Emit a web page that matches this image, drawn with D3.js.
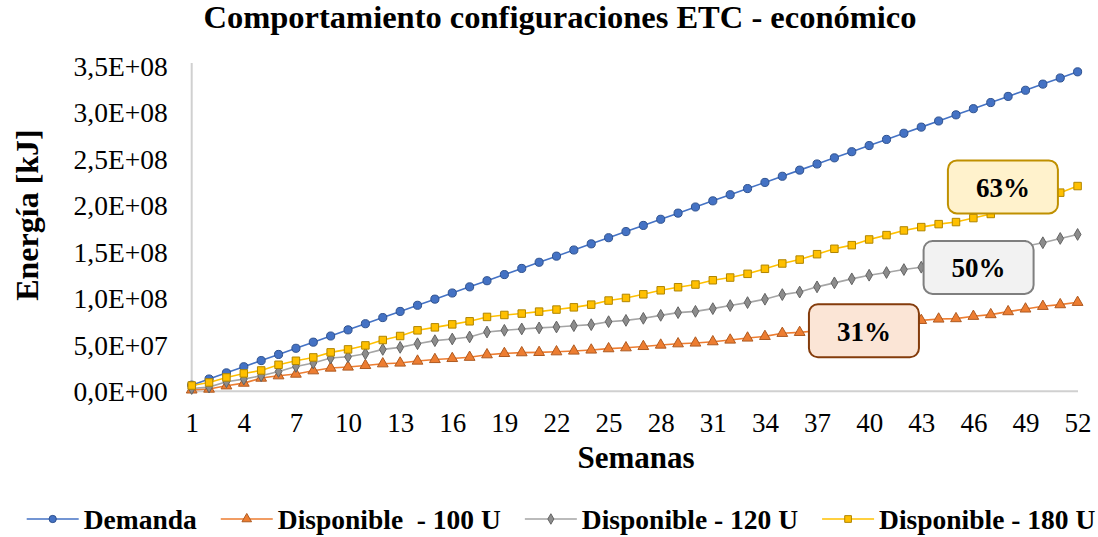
<!doctype html>
<html>
<head>
<meta charset="utf-8">
<style>
    body { margin: 0; background: #fff; }
    text { font-family: "Liberation Serif", "Times New Roman", serif; fill: #000; }
</style>
<script src="https://d3js.org/d3.v7.min.js"></script>
</head>
<body>
<svg width="1098" height="537"></svg>
<script>

    // data (values in millions of kJ)
    var weeks = d3.range(1, 53);
    var xTicks = [1, 4, 7, 10, 13, 16, 19, 22, 25, 28, 31, 34, 37, 40, 43, 46, 49, 52];
    var yTicks = [0, 5e7, 1e8, 1.5e8, 2e8, 2.5e8, 3e8, 3.5e8];

    var demanda = [6.6, 13.2, 19.8, 26.4, 33.0, 39.6, 46.2, 52.8, 59.4, 66.0, 72.6, 79.2, 85.8,
        92.4, 99.0, 105.6, 112.2, 118.8, 125.4, 132.0, 138.6, 145.2, 151.8, 158.4, 165.0, 171.6,
        178.2, 184.8, 191.4, 198.0, 204.6, 211.2, 217.8, 224.4, 231.0, 237.6, 244.2, 250.8, 257.4,
        264.0, 270.6, 277.2, 283.8, 290.4, 297.0, 303.6, 310.2, 316.8, 323.4, 330.0, 336.6, 343.2];
    var disp100 = [1.5, 2.4, 5.9, 8.8, 14.2, 16.7, 18.5, 22.1, 25.0, 26.1, 27.8, 29.6, 30.4,
        32.5, 34.2, 35.3, 36.6, 39.3, 40.7, 41.5, 41.8, 42.5, 43.3, 44.4, 45.8, 46.8,
        48.2, 49.7, 51.1, 51.9, 53.3, 55.1, 57.3, 59.0, 62.3, 63.3, 65.1, 67.0, 68.8,
        70.7, 72.5, 74.4, 76.2, 77.7, 78.1, 80.6, 82.4, 85.6, 88.5, 91.3, 93.1, 95.6];
    var disp120 = [3.0, 4.5, 10.2, 13.1, 16.7, 21.3, 26.7, 30.4, 35.7, 37.1, 40.4, 45.0, 47.2,
        51.1, 54.4, 56.2, 58.4, 63.7, 65.5, 67.0, 68.1, 69.1, 70.5, 71.6, 74.8, 76.2,
        78.4, 81.6, 84.5, 85.9, 88.8, 92.1, 95.3, 98.9, 103.9, 106.6, 112.2, 116.5, 120.8,
        124.7, 127.6, 130.8, 133.3, 137.1, 140.8, 144.6, 148.3, 152.1, 155.8, 159.6, 164.2, 168.5];
    var disp180 = [6.2, 9.5, 14.9, 19.2, 22.4, 28.5, 32.8, 36.4, 41.8, 45.0, 49.3, 55.1, 59.4,
        65.5, 68.7, 71.9, 75.2, 79.9, 82.0, 83.5, 85.6, 87.8, 90.2, 93.1, 97.5, 100.3,
        104.2, 108.5, 111.8, 114.7, 119.3, 122.2, 126.2, 131.6, 137.3, 141.5, 147.3, 153.1, 157.0,
        163.1, 167.8, 172.8, 176.4, 179.6, 181.8, 186.1, 190.5, 196.0, 202.0, 208.0, 213.4, 220.5];

    var seriesNames = ["Demanda", "Disponible  - 100 U", "Disponible - 120 U", "Disponible - 180 U"];
    var seriesValues = [demanda, disp100, disp120, disp180];

    // percentage call-outs: label, week, value (millions)
    var calloutLabels = ["31%", "50%", "63%"];
    var calloutWeeks = [39.7, 46.3, 47.7];
    var calloutValues = [64.5, 132.5, 219.0];

    // styles
    var lineColors = ["#4472C4", "#ED7D31", "#A5A5A5", "#FFC000"];
    var markFill = ["#4472C4", "#ED7D31", "#8C8C8C", "#FFC000"];
    var markStroke = ["#2F528F", "#AE5A21", "#636363", "#B08500"];
    var markShape = [d3.symbolCircle, d3.symbolTriangle, d3.symbolDiamond, d3.symbolSquare];
    var markSize = [52, 50, 40, 56];
    var boxFill = ["#FBE5D6", "#F2F2F2", "#FFF2CC"];
    var boxStroke = ["#843C0C", "#7F7F7F", "#BF9000"];

    var svg = d3.select("svg");

    var x = d3.scalePoint().domain(weeks).range([191.7, 1077.6]);
    var y = d3.scaleLinear().domain([0, 3.5e8]).range([391.3, 65.5]);

    // title
    svg.append("text")
       .attr("x", 560).attr("y", 28)
       .attr("text-anchor", "middle")
       .attr("font-size", "32.5px").attr("font-weight", "bold")
       .text("Comportamiento configuraciones ETC - económico");

    // y axis
    var yAxis = svg.append("g")
       .attr("transform", "translate(191.7,0)")
       .call(d3.axisLeft(y).tickValues(yTicks).tickSize(0).tickPadding(24)
           .tickFormat(function (d) { return d3.format(".1e")(d).replace(".", ",").replace(/e([+-])(\d)$/, "e$10$2").toUpperCase(); }));
    yAxis.select(".domain").attr("stroke", "#D0D0D0").attr("stroke-width", 2).attr("d", "M0,63V391.3");
    yAxis.selectAll("text").attr("font-size", "27.5px").attr("font-family", "Liberation Serif").attr("dy", "0.35em");

    // x axis
    var xAxis = svg.append("g")
       .attr("transform", "translate(0,391.3)")
       .call(d3.axisBottom(x).tickValues(xTicks).tickSize(0).tickPadding(22));
    xAxis.select(".domain").attr("stroke", "#D0D0D0").attr("stroke-width", 2).attr("d", "M191.7,0H1078");
    xAxis.selectAll("text").attr("font-size", "27px").attr("font-family", "Liberation Serif");

    // axis titles
    svg.append("text")
       .attr("x", 636).attr("y", 468)
       .attr("text-anchor", "middle")
       .attr("font-size", "31px").attr("font-weight", "bold")
       .text("Semanas");
    svg.append("text")
       .attr("transform", "translate(38,215) rotate(-90)")
       .attr("text-anchor", "middle")
       .attr("font-size", "32px").attr("font-weight", "bold")
       .text("Energía [kJ]");

    // series
    var line = d3.line()
       .x(function (d, i) { return x(weeks[i]); })
       .y(function (d) { return y(d * 1e6); });

    seriesValues.forEach(function (vals, s) {
        var g = svg.append("g");
        g.append("path")
         .attr("d", line(vals))
         .attr("fill", "none")
         .attr("stroke", lineColors[s])
         .attr("stroke-width", 1.6);
        g.selectAll("path.mk")
         .data(vals)
         .enter().append("path")
         .attr("class", "mk")
         .attr("transform", function (d, i) { return "translate(" + x(weeks[i]) + "," + y(d * 1e6) + ")"; })
         .attr("d", d3.symbol().type(markShape[s]).size(markSize[s]))
         .attr("fill", markFill[s])
         .attr("stroke", markStroke[s])
         .attr("stroke-width", 1);
    });

    // call-out boxes
    calloutLabels.forEach(function (lab, i) {
        var cx = x(1) + (calloutWeeks[i] - 1) * x.step(),
            cy = y(calloutValues[i] * 1e6);
        svg.append("rect")
           .attr("x", cx - 55).attr("y", cy - 27)
           .attr("width", 110).attr("height", 53)
           .attr("rx", 9)
           .attr("fill", boxFill[i])
           .attr("stroke", boxStroke[i])
           .attr("stroke-width", 2);
        svg.append("text")
           .attr("x", cx).attr("y", cy)
           .attr("dy", "0.35em")
           .attr("text-anchor", "middle")
           .attr("font-size", "27px").attr("font-weight", "bold")
           .text(lab);
    });

    // legend
    var legend = svg.append("g");
    var lx = 0;
    seriesNames.forEach(function (name, s) {
        var item = legend.append("g").attr("transform", "translate(" + lx + ",0)");
        item.append("line")
            .attr("x1", 0).attr("x2", 52).attr("y1", 0).attr("y2", 0)
            .attr("stroke", lineColors[s]).attr("stroke-width", 1.6);
        item.append("path")
            .attr("transform", "translate(26,0)")
            .attr("d", d3.symbol().type(markShape[s]).size(markSize[s] * 0.8))
            .attr("fill", markFill[s]).attr("stroke", markStroke[s]);
        var t = item.append("text")
            .attr("x", 57).attr("y", 0).attr("dy", "0.35em")
            .attr("font-size", "27.5px").attr("font-weight", "bold")
            .style("white-space", "pre")
            .text(name);
        lx += 57 + t.node().getComputedTextLength() + 24;
    });
    lx -= 24;
    legend.attr("transform", "translate(" + (561 - lx / 2) + ",519)");

</script>
</body>
</html>
